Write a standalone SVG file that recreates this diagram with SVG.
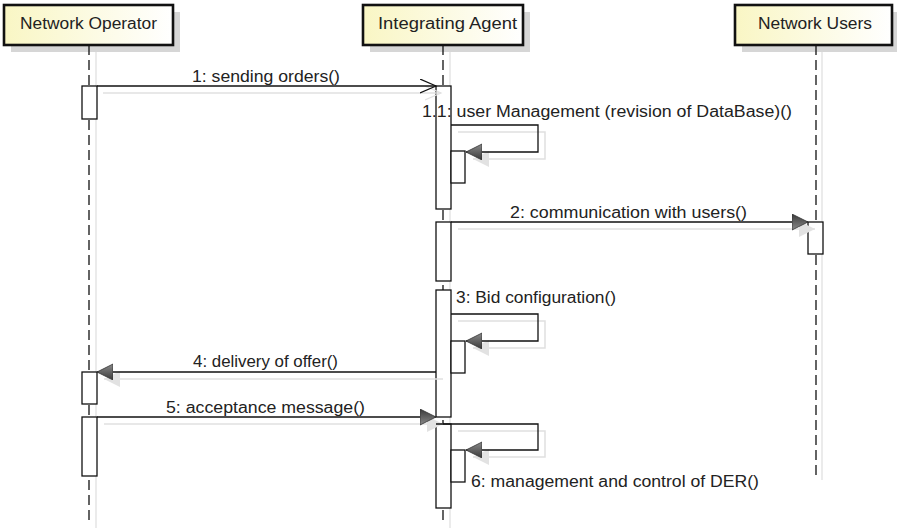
<svg xmlns="http://www.w3.org/2000/svg" width="897" height="531" viewBox="0 0 897 531">
  <defs>
    <linearGradient id="headFill" x1="0" y1="0" x2="1" y2="0">
      <stop offset="0" stop-color="#f9f6c4"/>
      <stop offset="1" stop-color="#ffffff"/>
    </linearGradient>
    <linearGradient id="arrowFill" x1="0" y1="0" x2="0" y2="1">
      <stop offset="0" stop-color="#3a3a3a"/>
      <stop offset="1" stop-color="#8a8a8a"/>
    </linearGradient>
    <marker id="filled" markerUnits="userSpaceOnUse" markerWidth="17" markerHeight="17" refX="16" refY="8" orient="auto">
      <path d="M0,0 L16,8 L0,16 Z" fill="url(#arrowFill)" stroke="#333" stroke-width="0.8"/>
    </marker>
    <marker id="filledShadow" markerUnits="userSpaceOnUse" markerWidth="17" markerHeight="17" refX="16" refY="8" orient="auto">
      <path d="M0,0 L16,8 L0,16 Z" fill="#e2e2e2"/>
    </marker>
    <marker id="open" markerUnits="userSpaceOnUse" markerWidth="18" markerHeight="16" refX="16" refY="7" orient="auto">
      <path d="M0,0 L16,7 L0,14" fill="none" stroke="#111" stroke-width="1.2"/>
    </marker>
    <marker id="openShadow" markerUnits="userSpaceOnUse" markerWidth="18" markerHeight="16" refX="16" refY="7" orient="auto">
      <path d="M0,0 L16,7 L0,14" fill="none" stroke="#e2e2e2" stroke-width="1.2"/>
    </marker>
  </defs>
  <style>
    .head { fill: url(#headFill); stroke: #111; stroke-width: 2.6; }
    .headShadow { fill: #d6d6d6; }
    .life { stroke: #111; stroke-width: 1.3; stroke-dasharray: 10 5; fill: none; }
    .lifeShadow { stroke: #e0e0e0; stroke-width: 1.3; fill: none; }
    .act { fill: #ffffff; stroke: #111; stroke-width: 1.3; }
    .msg { stroke: #111; stroke-width: 1.3; fill: none; }
    .msgShadow { stroke: #e0e0e0; stroke-width: 1.5; fill: none; }
    text { font-family: "Liberation Sans", Arial, sans-serif; font-size: 16px; fill: #222; }
    .title { text-anchor: middle; }
  </style>

  <rect width="897" height="531" fill="#ffffff"/>

  <!-- participant: Network Operator -->
  <g id="network-operator">
    <rect class="headShadow" x="11" y="12" width="169" height="40"/>
    <line class="lifeShadow" x1="96" y1="52" x2="96" y2="528"/>
    <line class="life" x1="89" y1="45" x2="89" y2="525"/>
    <rect class="head" x="4" y="5" width="169" height="40"/>
    <text class="title" x="88.5" y="29" textLength="137" lengthAdjust="spacingAndGlyphs">Network Operator</text>
    <rect class="act" x="82" y="86" width="15" height="33"/>
    <rect class="act" x="82" y="372" width="15" height="32"/>
    <rect class="act" x="82" y="417" width="15" height="59"/>
  </g>

  <!-- participant: Integrating Agent -->
  <g id="integrating-agent">
    <rect class="headShadow" x="370" y="12" width="160" height="40"/>
    <line class="lifeShadow" x1="450" y1="52" x2="450" y2="528"/>
    <line class="life" x1="443" y1="45" x2="443" y2="525"/>
    <rect class="head" x="363" y="5" width="160" height="40"/>
    <text class="title" x="447.5" y="29" textLength="139" lengthAdjust="spacingAndGlyphs">Integrating Agent</text>
    <rect class="act" x="436" y="86" width="15" height="123"/>
    <rect class="act" x="436" y="222" width="15" height="59"/>
    <rect class="act" x="436" y="290" width="15" height="127"/>
    <rect class="act" x="436" y="424" width="15" height="84"/>
    <!-- nested activations for self calls -->
    <rect class="act" x="451" y="151" width="14" height="32"/>
    <rect class="act" x="451" y="341" width="14" height="32"/>
    <rect class="act" x="451" y="450" width="14" height="32"/>
  </g>

  <!-- participant: Network Users -->
  <g id="network-users">
    <rect class="headShadow" x="742" y="12" width="157" height="40"/>
    <line class="lifeShadow" x1="822" y1="52" x2="822" y2="480"/>
    <line class="life" x1="816" y1="45" x2="816" y2="478"/>
    <rect class="head" x="735" y="5" width="157" height="40"/>
    <text class="title" x="815" y="29" textLength="114" lengthAdjust="spacingAndGlyphs">Network Users</text>
    <rect class="act" x="808" y="222" width="15" height="32"/>
  </g>

  <!-- messages -->
  <g id="connectors">
    <!-- shadows -->
    <path class="msgShadow" d="M103,93 H441" marker-end="url(#openShadow)"/>
    <path class="msgShadow" d="M458,132 H545 V159 H473" marker-end="url(#filledShadow)"/>
    <path class="msgShadow" d="M458,229 H815" marker-end="url(#filledShadow)"/>
    <path class="msgShadow" d="M458,321 H545 V348 H473" marker-end="url(#filledShadow)"/>
    <path class="msgShadow" d="M443,379 H104" marker-end="url(#filledShadow)"/>
    <path class="msgShadow" d="M104,424 H443" marker-end="url(#filledShadow)"/>
    <path class="msgShadow" d="M458,431 H545 V457 H473" marker-end="url(#filledShadow)"/>

    <path class="msg" d="M97,86 H436" marker-end="url(#open)"/>
    <path class="msg" d="M451,125 H538 V152 H466" marker-end="url(#filled)"/>
    <path class="msg" d="M451,222 H808" marker-end="url(#filled)"/>
    <path class="msg" d="M451,314 H538 V341 H466" marker-end="url(#filled)"/>
    <path class="msg" d="M436,372 H97" marker-end="url(#filled)"/>
    <path class="msg" d="M97,417 H436" marker-end="url(#filled)"/>
    <path class="msg" d="M436,424 H538 V450 H466" marker-end="url(#filled)"/>

    <text x="192" y="82" textLength="148" lengthAdjust="spacingAndGlyphs">1: sending orders()</text>
    <text x="422" y="117" textLength="370" lengthAdjust="spacingAndGlyphs">1.1: user Management (revision of DataBase)()</text>
    <text x="510" y="218" textLength="237" lengthAdjust="spacingAndGlyphs">2: communication with users()</text>
    <text x="456" y="303" textLength="160" lengthAdjust="spacingAndGlyphs">3: Bid configuration()</text>
    <text x="193" y="367" textLength="145" lengthAdjust="spacingAndGlyphs">4: delivery of offer()</text>
    <text x="166" y="413" textLength="199" lengthAdjust="spacingAndGlyphs">5: acceptance message()</text>
    <text x="471" y="487" textLength="288" lengthAdjust="spacingAndGlyphs">6: management and control of DER()</text>
  </g>
</svg>
